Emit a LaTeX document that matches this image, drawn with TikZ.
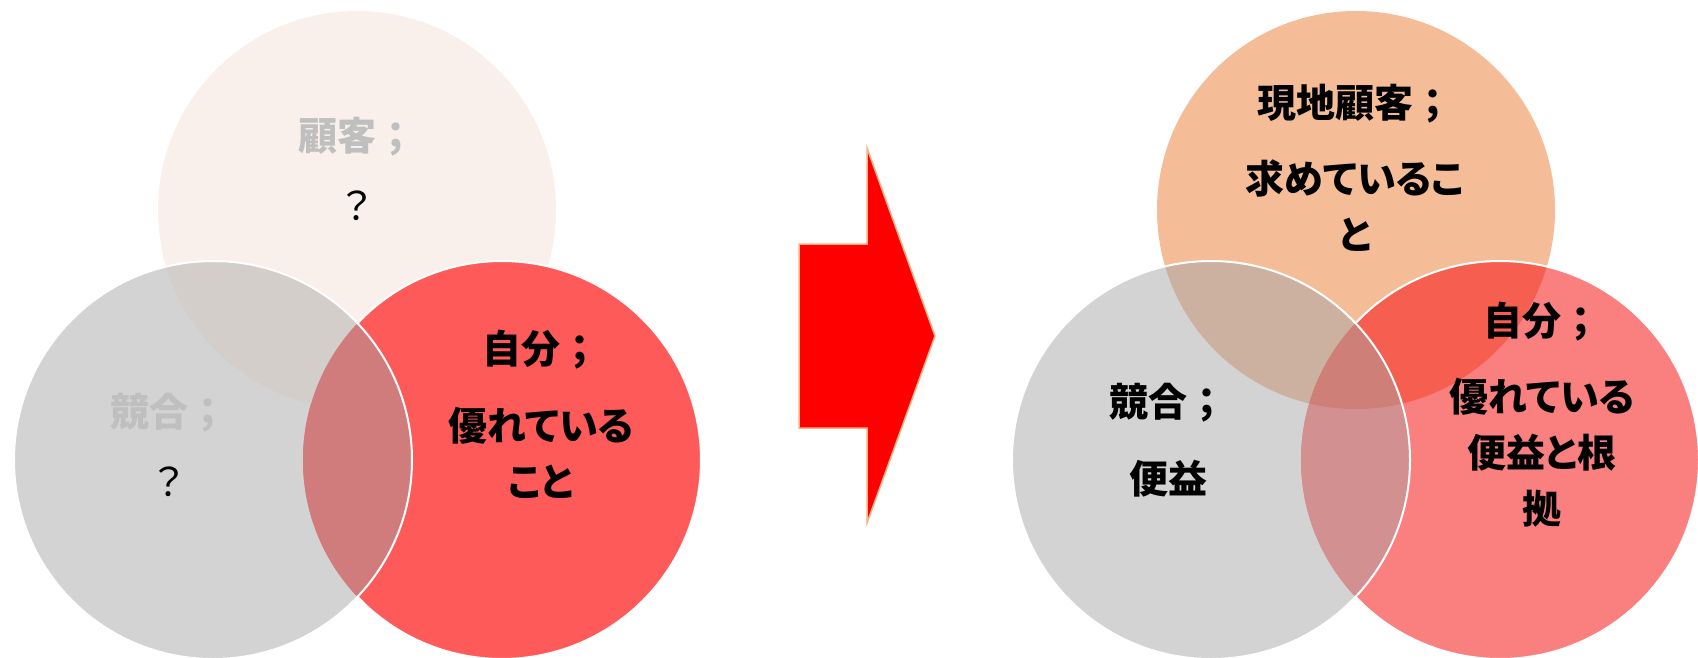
\documentclass[tikz,border=0pt]{standalone}
\usepackage{fontspec}
\newfontfamily\jp{Noto Sans CJK JP}[RawFeature=+palt]
\newfontfamily\jpn{Noto Sans CJK JP}
\newcommand{\semi}{{\jpn ；}}
\definecolor{cTa}{HTML}{FAF0EB}
\definecolor{cG}{HTML}{D3D3D3}
\definecolor{cRa}{HTML}{FF5A5A}
\definecolor{cTGa}{HTML}{D3CECA}
\definecolor{cGRa}{HTML}{D07C7C}
\definecolor{cTb}{HTML}{F4BC97}
\definecolor{cRb}{HTML}{FA8080}
\definecolor{cTGb}{HTML}{CDB1A0}
\definecolor{cTRb}{HTML}{F65F4F}
\definecolor{cGRb}{HTML}{D29090}
\definecolor{cTGRb}{HTML}{CE7F77}
\definecolor{lgtext}{HTML}{BFBFBF}
\definecolor{arrowline}{HTML}{F4B183}
\tikzset{
  lbl/.style={font=\jp\bfseries\fontsize{39}{56}\selectfont, align=center, inner sep=0pt, text=black},
  wline/.style={draw=white, line width=2pt},
  bigarrow/.style={fill=red, draw=arrowline, line width=1.5pt, line join=miter}
}
\begin{document}
\begin{tikzpicture}[x=1pt,y=-1pt]
\useasboundingbox (0,0) rectangle (1698,658);
% ---------- left Venn ----------
\coordinate (LT) at (357,210);
\coordinate (LG) at (213,460);
\coordinate (LR) at (502,460);
\fill[cTa] (LT) circle[radius=199];
\fill[cG] (LG) circle[radius=199];
\fill[cRa] (LR) circle[radius=199];
\begin{scope}
  \clip (LG) circle[radius=199];
  \fill[cTGa] (LT) circle[radius=199];
  \fill[cGRa] (LR) circle[radius=199];
\end{scope}
\draw[wline] ([shift={(-136.57:199)}]LR) arc[start angle=-136.57, end angle=136.57, radius=199];
\draw[wline] (LG) circle[radius=199];
% ---------- arrow ----------
\draw[bigarrow] (799,244) -- (867,244) -- (867,148) -- (935,336) -- (867,523) -- (867,428) -- (799,428) -- cycle;
% ---------- right Venn ----------
\coordinate (RT) at (1356,210);
\coordinate (RG) at (1211,460);
\coordinate (RR) at (1500,460);
\fill[cTb] (RT) circle[radius=199];
\fill[cG] (RG) circle[radius=199];
\fill[cRb] (RR) circle[radius=199];
\begin{scope}
  \clip (RT) circle[radius=199];
  \fill[cTRb] (RR) circle[radius=199];
\end{scope}
\begin{scope}
  \clip (RG) circle[radius=199];
  \fill[cTGb] (RT) circle[radius=199];
  \fill[cGRb] (RR) circle[radius=199];
  \clip (RT) circle[radius=199];
  \fill[cTGRb] (RR) circle[radius=199];
\end{scope}
\draw[wline] ([shift={(-136.57:199)}]RR) arc[start angle=-136.57, end angle=136.57, radius=199];
\draw[wline] (RG) circle[radius=199];
% ---------- labels ----------
\node[lbl] (lt) at (357,169) {\textcolor{lgtext}{顧客\semi}\\[14pt]{\mdseries ？}};
\node[lbl] (lg) at (169,445) {\textcolor{lgtext}{競合\semi}\\[14pt]{\mdseries ？}};
\node[lbl] (lr) at (541,414) {自分\semi\\[21pt]優れている\\こと};
\node[lbl] (rt) at (1355,168) {現地顧客\semi\\[20pt]求めているこ\\と};
\node[lbl] (rg) at (1168,440) {競合\semi\\[21pt]便益};
\node[lbl] (rr) at (1542,415) {自分\semi\\[20pt]優れている\\便益と根\\拠};
\end{tikzpicture}
\end{document}
